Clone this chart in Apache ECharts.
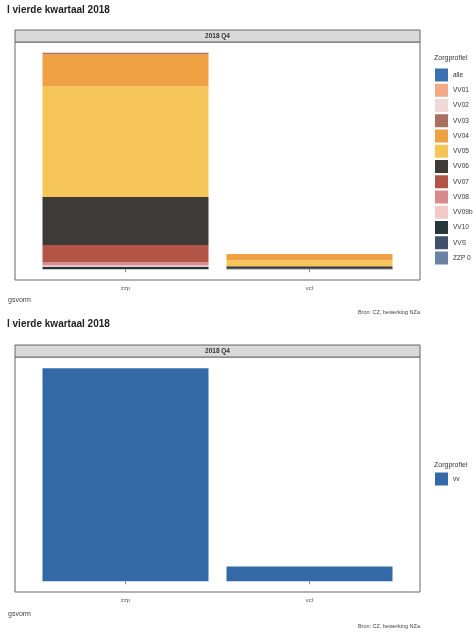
<!DOCTYPE html>
<html>
<head>
<meta charset="utf-8">
<script src="https://cdn.jsdelivr.net/npm/echarts@6/dist/echarts.min.js"></script>
<style>html,body{margin:0;padding:0;background:#fff}#c{width:476px;height:632px}</style>
</head>
<body>
<div id="c"></div>
<script>
// ---- data ----
const categories = ['zzp', 'vcl'];
const profiles = ['alle','VV01','VV02','VV03','VV04','VV05','VV06','VV07','VV08','VV09b','VV10','VVS','ZZP 0'];
const zzpValues = [0, 0, 0, 1.5, 32, 110, 48, 17, 3, 1.5, 2.5, 0, 0];
const vclValues = [0, 0, 0, 0, 6, 6, 2, 0, 0, 0, 1, 0, 0];
const vvName = 'vv';
const vvValues = [215, 15];
const stripLabel = '2018 Q4';
const titleText = 'l vierde kwartaal 2018';
const xTitle = 'gsvorm';
const legendTitle = 'Zorgprofiel';
const caption = 'Bron: CZ, bewerking NZa';

// ---- styles ----
const palette = ['#3a6fb0','#f2a985','#efd9d6','#a8705f','#eea043','#f6c55a','#3d3a38','#b35546','#d98a8a','#f1c9c6','#28373a','#3f4f6c','#6b82a2'];
const vvColor = '#3469a8';
const font = 'Liberation Sans, Arial, sans-serif';

const chart = echarts.init(document.getElementById('c'), null, {renderer: 'canvas'});

const yMax = Math.max(zzpValues.reduce((a,b)=>a+b,0), vclValues.reduce((a,b)=>a+b,0), ...vvValues);

function xAxisFor(gi) {
  return {
    type: 'category', gridIndex: gi, data: categories,
    axisLine: {show: false},
    axisTick: {show: true, alignWithLabel: true, length: 3, lineStyle: {color: '#888'}},
    axisLabel: {fontSize: 6, color: '#555', fontFamily: font, margin: 5}
  };
}
function yAxisFor(gi) {
  return {
    type: 'value', gridIndex: gi, min: -0.05 * yMax, max: 1.05 * yMax,
    axisLabel: {show: false}, axisLine: {show: false}, axisTick: {show: false}, splitLine: {show: false}
  };
}

const series = [];
for (let i = profiles.length - 1; i >= 0; i--) {
  series.push({
    type: 'bar', name: profiles[i], xAxisIndex: 0, yAxisIndex: 0, stack: 'top',
    barWidth: 166,
    data: [zzpValues[i], vclValues[i]],
    itemStyle: {color: palette[i]}
  });
}
series.push({
  type: 'bar', name: vvName, xAxisIndex: 1, yAxisIndex: 1, stack: 'bottom',
  barWidth: 166,
  data: vvValues,
  itemStyle: {color: vvColor}
});

function panel(y, h) {
  return [
    {type: 'rect', z: 10, shape: {x: 15, y: y, width: 405, height: h}, style: {fill: 'none', stroke: '#666', lineWidth: 1}},
    {type: 'rect', z: 10, shape: {x: 15, y: y - 12, width: 405, height: 12}, style: {fill: '#d9d9d9', stroke: '#666', lineWidth: 1}},
    {type: 'text', z: 11, x: 217.5, y: y - 6, style: {text: stripLabel, fontSize: 6.5, fontWeight: 'bold', fill: '#333', fontFamily: font, align: 'center', verticalAlign: 'middle'}}
  ];
}
function texts(off) {
  return [
    {type: 'text', x: 7, y: 10 + off, style: {text: titleText, fontSize: 10, fontWeight: 'bold', fill: '#222', fontFamily: font, verticalAlign: 'middle'}},
    {type: 'text', x: 8, y: 300 + off, style: {text: xTitle, fontSize: 7, fill: '#444', fontFamily: font, verticalAlign: 'middle'}},
    {type: 'text', x: 420, y: 312 + off, style: {text: caption, fontSize: 5.5, fill: '#444', fontFamily: font, align: 'right', verticalAlign: 'middle'}}
  ];
}

const option = {
  backgroundColor: '#fff',
  animation: false,
  textStyle: {fontFamily: font},
  grid: [
    {left: 33.5, top: 42, width: 368, height: 238},
    {left: 33.5, top: 357, width: 368, height: 235}
  ],
  xAxis: [xAxisFor(0), xAxisFor(1)],
  yAxis: [yAxisFor(0), yAxisFor(1)],
  legend: [
    {data: profiles, orient: 'vertical', left: 435, top: 68.5, padding: 0, itemWidth: 13, itemHeight: 13, itemGap: 2.25,
      icon: 'rect', selectedMode: false, textStyle: {fontSize: 6.5, color: '#333', fontFamily: font}},
    {data: [vvName], orient: 'vertical', left: 435, top: 472.5, padding: 0, itemWidth: 13, itemHeight: 13,
      icon: 'rect', selectedMode: false, textStyle: {fontSize: 6.5, color: '#333', fontFamily: font}}
  ],
  graphic: [
    ...panel(42, 238), ...panel(357, 235),
    ...texts(0), ...texts(314),
    {type: 'text', x: 434, y: 58, style: {text: legendTitle, fontSize: 7, fill: '#333', fontFamily: font, verticalAlign: 'middle'}},
    {type: 'text', x: 434, y: 465, style: {text: legendTitle, fontSize: 7, fill: '#333', fontFamily: font, verticalAlign: 'middle'}}
  ],
  series: series
};
chart.setOption(option);
</script>
</body>
</html>
